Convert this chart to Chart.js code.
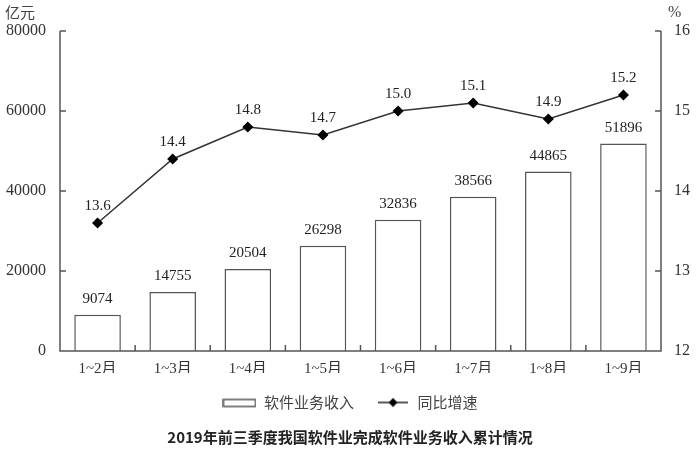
<!DOCTYPE html>
<html>
<head>
<meta charset="utf-8">
<script src="https://cdn.jsdelivr.net/npm/chart.js@4/dist/chart.umd.min.js"></script>
<style>
  body { margin: 0; background: #fff; }
  #wrap { width: 700px; height: 461px; }
</style>
</head>
<body>
<div id="wrap"><canvas id="c"></canvas></div>
<script>
const months = ["1~2月", "1~3月", "1~4月", "1~5月", "1~6月", "1~7月", "1~8月", "1~9月"];
const revenue = [9074, 14755, 20504, 26298, 32836, 38566, 44865, 51896];
const growth = [13.6, 14.4, 14.8, 14.7, 15.0, 15.1, 14.9, 15.2];
const leftTicks = [0, 20000, 40000, 60000, 80000];
const rightTicks = [12, 13, 14, 15, 16];

const serif = "'Liberation Serif', 'Noto Sans CJK SC', serif";
const cjk = "'Noto Sans CJK SC', sans-serif";

// legend icons
function barIcon() {
  const c = document.createElement("canvas");
  c.width = 34; c.height = 12;
  const g = c.getContext("2d");
  g.strokeStyle = "#555"; g.lineWidth = 1.5;
  g.strokeRect(1, 3, 32, 7);
  return c;
}
function lineIcon() {
  const c = document.createElement("canvas");
  c.width = 30; c.height = 12;
  const g = c.getContext("2d");
  g.strokeStyle = "#222"; g.lineWidth = 1.5;
  g.beginPath(); g.moveTo(0, 6); g.lineTo(30, 6); g.stroke();
  g.fillStyle = "#000";
  g.beginPath(); g.moveTo(15, 1.5); g.lineTo(19.5, 6); g.lineTo(15, 10.5); g.lineTo(10.5, 6); g.closePath(); g.fill();
  return c;
}
const icons = [barIcon(), lineIcon()];

const decor = {
  id: "decor",
  afterDraw(chart) {
    const ctx = chart.ctx;
    const a = chart.chartArea;
    const x = chart.scales.x, y = chart.scales.y, y1 = chart.scales.y1;
    ctx.save();
    ctx.strokeStyle = "#555";
    ctx.lineWidth = 1.5;
    ctx.beginPath();
    // axes
    ctx.moveTo(a.left, a.top); ctx.lineTo(a.left, a.bottom); ctx.lineTo(a.right, a.bottom); ctx.lineTo(a.right, a.top);
    // inward ticks
    leftTicks.forEach(v => { const p = y.getPixelForValue(v); ctx.moveTo(a.left, p); ctx.lineTo(a.left + 6, p); });
    rightTicks.forEach(v => { const p = y1.getPixelForValue(v); ctx.moveTo(a.right, p); ctx.lineTo(a.right - 6, p); });
    const half = (x.getPixelForValue(1) - x.getPixelForValue(0)) / 2;
    for (let i = 1; i < months.length; i++) {
      const p = x.getPixelForValue(i) - half;
      ctx.moveTo(p, a.bottom); ctx.lineTo(p, a.bottom - 6);
    }
    ctx.stroke();

    // value labels
    ctx.fillStyle = "#222";
    ctx.font = "15px " + serif;
    ctx.textAlign = "center";
    ctx.textBaseline = "bottom";
    chart.getDatasetMeta(0).data.forEach((el, i) => ctx.fillText(String(revenue[i]), el.x, el.y - 8));
    chart.getDatasetMeta(1).data.forEach((el, i) => ctx.fillText(growth[i].toFixed(1), el.x, el.y - 9));

    // unit titles
    ctx.font = "15px " + cjk;
    ctx.fillStyle = "#444";
    ctx.textAlign = "left";
    ctx.textBaseline = "middle";
    ctx.fillText("亿元", 5, 12);
    ctx.font = "16px " + serif;
    ctx.fillText("%", 668, 13);
    ctx.restore();
  }
};

new Chart(document.getElementById("c"), {
  data: {
    labels: months,
    datasets: [{
      type: "bar",
      label: "软件业务收入",
      data: revenue,
      yAxisID: "y",
      backgroundColor: "#fff",
      borderColor: "#555",
      borderWidth: 1.5,
      categoryPercentage: 0.62,
      barPercentage: 1,
      order: 2
    }, {
      type: "line",
      label: "同比增速",
      data: growth,
      yAxisID: "y1",
      borderColor: "#333",
      borderWidth: 1.5,
      pointStyle: "rectRot",
      pointRadius: 4.5,
      pointBackgroundColor: "#000",
      pointBorderColor: "#000",
      tension: 0,
      order: 1
    }]
  },
  options: {
    responsive: true,
    maintainAspectRatio: false,
    animation: false,
    layout: { padding: { top: 31, right: 0, left: 0, bottom: 11 } },
    scales: {
      x: {
        grid: { display: false, drawTicks: false },
        border: { display: false },
        ticks: { color: "#333", font: { size: 15, family: serif }, padding: 9 },
        afterFit(s) { s.height = 22; }
      },
      y: {
        position: "left",
        min: 0, max: 80000,
        grid: { display: false, drawTicks: false },
        border: { display: false },
        ticks: { stepSize: 20000, color: "#333", font: { size: 16, family: serif }, padding: 14,
          callback: v => String(v) },
        afterFit(s) { s.width = 60; }
      },
      y1: {
        position: "right",
        min: 12, max: 16,
        grid: { display: false, drawTicks: false },
        border: { display: false },
        ticks: { stepSize: 1, color: "#333", font: { size: 16, family: serif }, padding: 13,
          callback: v => String(v) },
        afterFit(s) { s.width = 39; }
      }
    },
    plugins: {
      legend: {
        position: "bottom",
        labels: {
          usePointStyle: true,
          pointStyleWidth: 34,
          color: "#444",
          font: { size: 15, family: cjk },
          padding: 22,
          boxHeight: 12,
          generateLabels(chart) {
            return chart.data.datasets.map((ds, i) => ({
              text: ds.label,
              datasetIndex: i,
              pointStyle: icons[i],
              fontColor: "#444",
              hidden: false
            }));
          }
        }
      },
      title: {
        display: true,
        position: "bottom",
        text: "2019年前三季度我国软件业完成软件业务收入累计情况",
        color: "#222",
        font: { size: 15, weight: "bold", family: cjk },
        padding: { top: 8, bottom: 4 }
      },
      tooltip: { enabled: false }
    }
  },
  plugins: [decor]
});
</script>
</body>
</html>
